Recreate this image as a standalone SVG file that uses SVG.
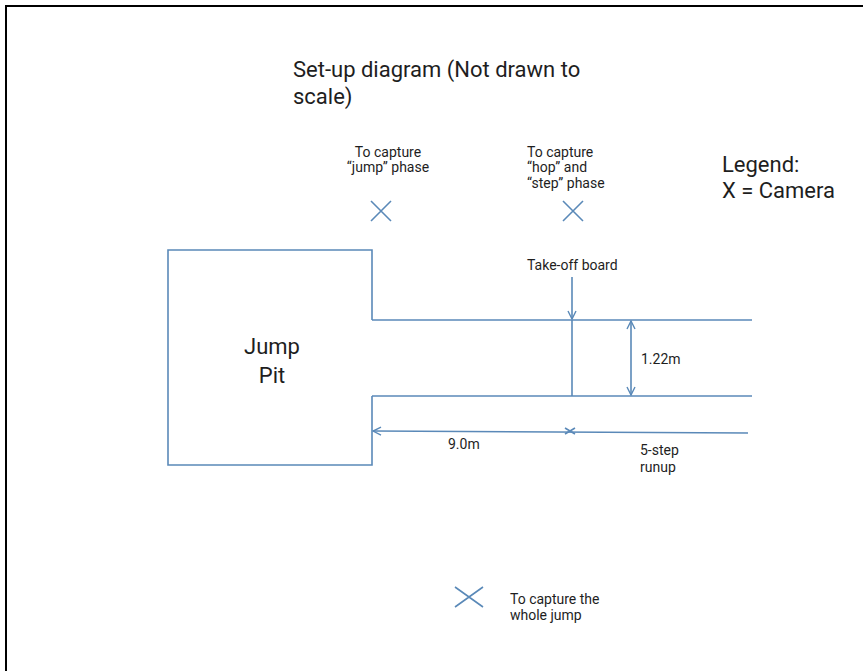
<svg xmlns="http://www.w3.org/2000/svg" width="863" height="671" viewBox="0 0 863 671">
<style>
.ln{fill:none;stroke:#5a89b8;stroke-width:1.6}
.t{font-family:Roboto,"Liberation Sans",sans-serif;fill:#1e1e1e}
.s{font-size:14px}
.b{font-size:22px}
</style>
<defs>
<marker id="ah" markerWidth="10" markerHeight="10" refX="9" refY="5" orient="auto-start-reverse" markerUnits="userSpaceOnUse">
<path d="M1,1 L9,5 L1,9" fill="none" stroke="#5a89b8" stroke-width="1.4"/>
</marker>
</defs>
<rect width="863" height="671" fill="#fff"/>
<path d="M6,672 V6 H864" fill="none" stroke="#000" stroke-width="2"/>
<g id="title"><text class="t b" x="293" y="77">Set-up diagram (Not drawn to</text><text class="t b" x="293" y="104">scale)</text></g>
<g id="legend"><text class="t b" x="722" y="172">Legend:</text><text class="t b" x="722" y="198">X = Camera</text></g>
<g id="pit">
<path class="ln" d="M372,320 V250 H168 V465 H372 V396"/>
<text class="t b" x="272" y="354" text-anchor="middle">Jump</text>
<text class="t b" x="272" y="383" text-anchor="middle">Pit</text>
</g>
<g id="runway">
<line class="ln" x1="372" y1="320" x2="752" y2="320"/>
<line class="ln" x1="372" y1="396" x2="752" y2="396"/>
<line class="ln" x1="572" y1="320" x2="572" y2="396"/>
</g>
<g id="camera-jump">
<path class="ln" d="M371,201 L391,221 M391,201 L371,221"/>
<text class="t s" x="388" y="157" text-anchor="middle">To capture</text>
<text class="t s" x="388" y="172" text-anchor="middle">“jump” phase</text>
</g>
<g id="camera-hop-step">
<path class="ln" d="M563,201 L583,221 M583,201 L563,221"/>
<text class="t s" x="527" y="157">To capture</text>
<text class="t s" x="527" y="172">“hop” and</text>
<text class="t s" x="527" y="188">“step” phase</text>
</g>
<g id="camera-whole">
<path class="ln" d="M455,587 L483,607 M483,587 L455,607"/>
<text class="t s" x="510" y="604">To capture the</text>
<text class="t s" x="510" y="620">whole jump</text>
</g>
<g id="takeoff-label"><text class="t s" x="527" y="270">Take-off board</text></g>
<g id="connectors">
<line class="ln" x1="572" y1="277" x2="572" y2="319" marker-end="url(#ah)"/>
<line class="ln" x1="631" y1="321" x2="631" y2="395" marker-start="url(#ah)" marker-end="url(#ah)"/>
<line class="ln" x1="748" y1="433" x2="373" y2="431" marker-end="url(#ah)"/>
<path class="ln" d="M565,428 L575,434 M575,428 L565,434"/>
</g>
<g id="dim-labels">
<text class="t s" x="641" y="364">1.22m</text>
<text class="t s" x="448" y="449">9.0m</text>
<text class="t s" x="640" y="455">5-step</text>
<text class="t s" x="640" y="472">runup</text>
</g>
</svg>
